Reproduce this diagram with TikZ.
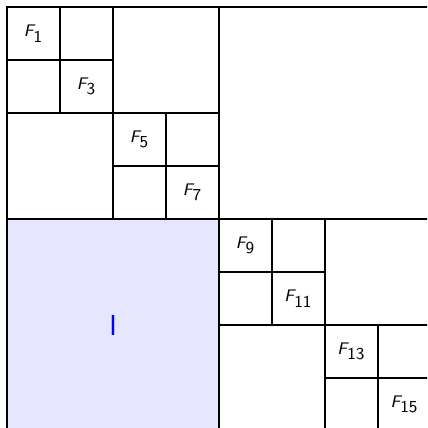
\documentclass[tikz,border=0pt]{standalone}
\usepackage{tikz}
\newcommand{\Flab}[1]{$\textsf{\itshape F}_{\textsf{#1}}$}
\definecolor{lav}{RGB}{230,230,255}
\begin{document}
\begin{tikzpicture}[
  gridline/.style={line width=1.2pt, black},
  flabel/.style={font=\small}
]
\useasboundingbox (-0.132,0.057) rectangle (7.925,8.132);
\clip (-0.132,0.057) rectangle (7.925,8.132);
\fill[lav] (0,0) rectangle (4,4);
\draw[gridline] (0,0) rectangle (8,8);
\draw[gridline] (4,0) -- (4,8) (0,4) -- (8,4);
\draw[gridline] (2,4) -- (2,8) (0,6) -- (4,6);
\draw[gridline] (1,6) -- (1,8) (0,7) -- (2,7);
\draw[gridline] (3,4) -- (3,6) (2,5) -- (4,5);
\draw[gridline] (6,0) -- (6,4) (4,2) -- (8,2);
\draw[gridline] (5,2) -- (5,4) (4,3) -- (6,3);
\draw[gridline] (7,0) -- (7,2) (6,1) -- (8,1);
\node[flabel] (f1) at (0.5,7.5) {\Flab{1}};
\node[flabel] (f3) at (1.5,6.5) {\Flab{3}};
\node[flabel] (f5) at (2.5,5.5) {\Flab{5}};
\node[flabel] (f7) at (3.5,4.5) {\Flab{7}};
\node[flabel] (f9) at (4.5,3.5) {\Flab{9}};
\node[flabel] (f11) at (5.5,2.5) {\Flab{11}};
\node[flabel] (f13) at (6.5,1.5) {\Flab{13}};
\node[flabel] (f15) at (7.5,0.5) {\Flab{15}};
\node[font=\fontsize{15.5}{18}\selectfont\sffamily, text=blue] (ilab) at (2,2) {I};
\end{tikzpicture}
\end{document}
